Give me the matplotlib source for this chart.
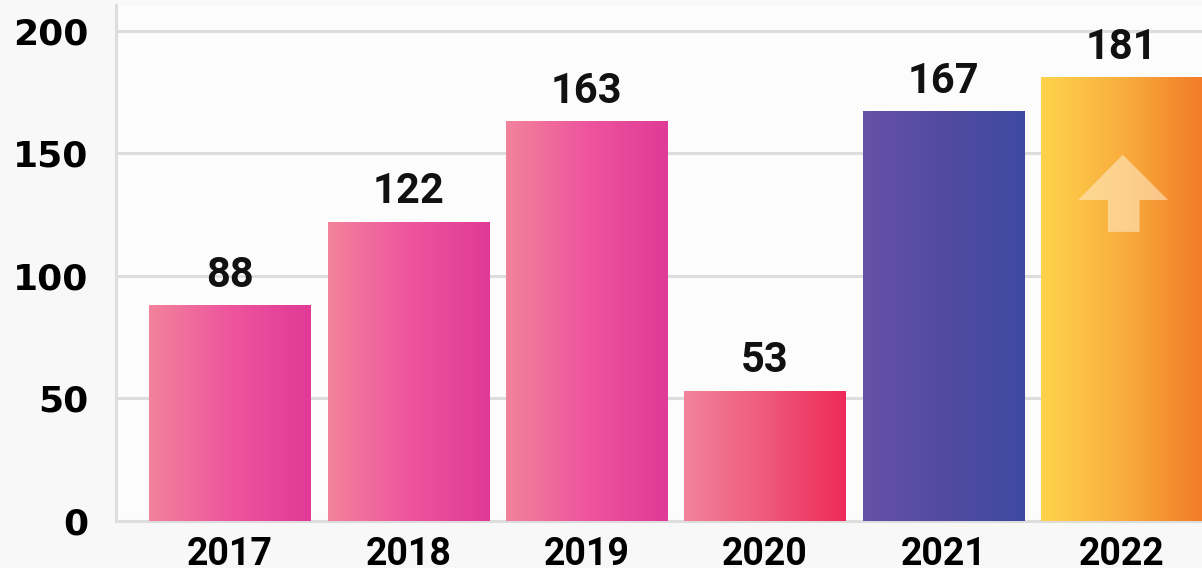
import numpy as np
import matplotlib.pyplot as plt
from matplotlib.colors import LinearSegmentedColormap
from matplotlib.patches import Polygon

years = ['2017', '2018', '2019', '2020', '2021', '2022']
values = [88, 122, 163, 53, 167, 181]
grad_left = ['#F2839B', '#F2839B', '#F2839B', '#F2839B', '#6651A6', '#FFD34C']
grad_mid = ['#EE559E', '#EE559E', '#EE559E', '#EF5A7C', '#524AA2', '#F9AE3E']
grad_right = ['#E03A96', '#E03A96', '#E03A96', '#EE2A5A', '#3D4BA0', '#F27C28']

fig = plt.figure(figsize=(12.02, 5.68), dpi=100, facecolor='#f8f8f8')
ax = fig.add_axes([116 / 1202, 47 / 568, 1086 / 1202, 516 / 568])
ax.set_facecolor('#fcfcfc')

ax.set_xlim(-0.64, 5.45)
ax.set_ylim(0, 210.6)

width = 0.905
grad = np.linspace(0, 1, 256).reshape(1, -1)
for i, (yr, v) in enumerate(zip(years, values)):
    cmap = LinearSegmentedColormap.from_list(yr, [grad_left[i], grad_mid[i], grad_right[i]])
    x0, x1 = i - width / 2, i + width / 2
    ax.imshow(grad, cmap=cmap, aspect='auto', extent=(x0, x1, 0, v),
              interpolation='bicubic', zorder=3)
    ax.annotate(str(v), (i, v), xytext=(0, 7), textcoords='offset points',
                ha='center', va='bottom', fontsize=30, fontweight='bold',
                family='Roboto', color='#111111', zorder=4)

# decorative up arrow on the last bar
i, v = len(values) - 1, values[-1]
arrow = Polygon([(i - 0.078, v - 63), (i + 0.10, v - 63), (i + 0.10, v - 50),
                 (i + 0.26, v - 50), (i + 0.006, v - 31.5), (i - 0.245, v - 50),
                 (i - 0.078, v - 50)],
                closed=True, facecolor='#ffe9c4', alpha=0.6, edgecolor='none', zorder=4)
ax.add_patch(arrow)

ax.set_xticks(range(len(years)))
ax.set_xticklabels(years, fontsize=27, fontweight='bold', family='Roboto')
ax.set_yticks([0, 50, 100, 150, 200])
ax.set_yticklabels(['0', '50', '100', '150', '200'], fontsize=26,
                   fontweight='bold', family='DejaVu Sans')
ax.tick_params(axis='both', length=0)
ax.tick_params(axis='y', pad=20)
ax.tick_params(axis='x', pad=11)

ax.grid(axis='y', color='#dddddd', linewidth=2.2, zorder=0)
ax.set_axisbelow(True)
for s in ['top', 'right']:
    ax.spines[s].set_visible(False)
for s in ['left', 'bottom']:
    ax.spines[s].set_color('#dddddd')
    ax.spines[s].set_linewidth(2.2)

fig.savefig('out.png', dpi=100, facecolor=fig.get_facecolor())
